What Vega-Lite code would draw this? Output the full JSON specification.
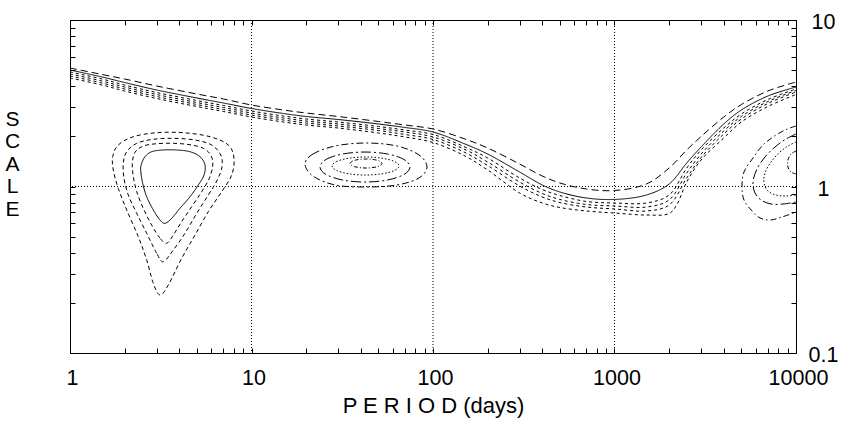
{
  "$schema": "https://vega.github.io/schema/vega-lite/v6.json",
  "width": 726,
  "height": 333,
  "autosize": {"type": "none"},
  "padding": {"left": 70, "top": 20, "right": 49, "bottom": 72},
  "background": "white",
  "config": {
    "view": {"stroke": "black", "strokeWidth": 1},
    "axis": {"tickColor": "black", "tickWidth": 1, "domain": false, "grid": false, "labelColor": "black", "titleColor": "black", "labelFont": "Liberation Sans", "titleFont": "Liberation Sans", "titleFontWeight": "normal"}
  },
  "datasets": {
    "vgrid": [{"period": 10}, {"period": 100}, {"period": 1000}],
    "hgrid": [{"scale": 1}],
    "open": [
      {"curve":"solid","seq":0,"period":1,"scale":5.01},{"curve":"solid","seq":1,"period":1.5,"scale":4.548},{"curve":"solid","seq":2,"period":2,"scale":4.213},{"curve":"solid","seq":3,"period":3,"scale":3.799},{"curve":"solid","seq":4,"period":5,"scale":3.401},{"curve":"solid","seq":5,"period":7,"scale":3.173},{"curve":"solid","seq":6,"period":10,"scale":2.941},{"curve":"solid","seq":7,"period":15,"scale":2.744},{"curve":"solid","seq":8,"period":20,"scale":2.633},{"curve":"solid","seq":9,"period":30,"scale":2.526},{"curve":"solid","seq":10,"period":50,"scale":2.374},{"curve":"solid","seq":11,"period":70,"scale":2.262},{"curve":"solid","seq":12,"period":100,"scale":2.125},{"curve":"solid","seq":13,"period":150,"scale":1.8},{"curve":"solid","seq":14,"period":200,"scale":1.567},{"curve":"solid","seq":15,"period":300,"scale":1.222},{"curve":"solid","seq":16,"period":400,"scale":1.021},{"curve":"solid","seq":17,"period":500,"scale":0.927},{"curve":"solid","seq":18,"period":700,"scale":0.853},{"curve":"solid","seq":19,"period":1000,"scale":0.836},{"curve":"solid","seq":20,"period":1500,"scale":0.889},{"curve":"solid","seq":21,"period":2000,"scale":1.035},{"curve":"solid","seq":22,"period":2500,"scale":1.384},{"curve":"solid","seq":23,"period":3000,"scale":1.727},{"curve":"solid","seq":24,"period":4000,"scale":2.374},{"curve":"solid","seq":25,"period":5000,"scale":2.88},{"curve":"solid","seq":26,"period":7000,"scale":3.496},{"curve":"solid","seq":27,"period":10000,"scale":3.959},
      {"curve":"dash","seq":0,"period":1,"scale":5.149},{"curve":"dash","seq":1,"period":1.5,"scale":4.708},{"curve":"dash","seq":2,"period":2,"scale":4.422},{"curve":"dash","seq":3,"period":3,"scale":4.015},{"curve":"dash","seq":4,"period":5,"scale":3.594},{"curve":"dash","seq":5,"period":7,"scale":3.354},{"curve":"dash","seq":6,"period":10,"scale":3.086},{"curve":"dash","seq":7,"period":15,"scale":2.88},{"curve":"dash","seq":8,"period":20,"scale":2.763},{"curve":"dash","seq":9,"period":30,"scale":2.633},{"curve":"dash","seq":10,"period":50,"scale":2.457},{"curve":"dash","seq":11,"period":70,"scale":2.341},{"curve":"dash","seq":12,"period":100,"scale":2.215},{"curve":"dash","seq":13,"period":150,"scale":1.929},{"curve":"dash","seq":14,"period":200,"scale":1.703},{"curve":"dash","seq":15,"period":300,"scale":1.365},{"curve":"dash","seq":16,"period":400,"scale":1.156},{"curve":"dash","seq":17,"period":500,"scale":1.05},{"curve":"dash","seq":18,"period":700,"scale":0.966},{"curve":"dash","seq":19,"period":1000,"scale":0.946},{"curve":"dash","seq":20,"period":1500,"scale":1.035},{"curve":"dash","seq":21,"period":2000,"scale":1.291},{"curve":"dash","seq":22,"period":2500,"scale":1.657},{"curve":"dash","seq":23,"period":3000,"scale":1.996},{"curve":"dash","seq":24,"period":4000,"scale":2.615},{"curve":"dash","seq":25,"period":5000,"scale":3.108},{"curve":"dash","seq":26,"period":7000,"scale":3.746},{"curve":"dash","seq":27,"period":10000,"scale":4.243},
      {"curve":"b1","seq":0,"period":1,"scale":4.873},{"curve":"b1","seq":1,"period":1.5,"scale":4.422},{"curve":"b1","seq":2,"period":2,"scale":4.07},{"curve":"b1","seq":3,"period":3,"scale":3.669},{"curve":"b1","seq":4,"period":5,"scale":3.285},{"curve":"b1","seq":5,"period":7,"scale":3.065},{"curve":"b1","seq":6,"period":10,"scale":2.841},{"curve":"b1","seq":7,"period":15,"scale":2.651},{"curve":"b1","seq":8,"period":20,"scale":2.543},{"curve":"b1","seq":9,"period":30,"scale":2.44},{"curve":"b1","seq":10,"period":50,"scale":2.293},{"curve":"b1","seq":11,"period":70,"scale":2.184},{"curve":"b1","seq":12,"period":100,"scale":2.053},{"curve":"b1","seq":13,"period":150,"scale":1.727},{"curve":"b1","seq":14,"period":200,"scale":1.483},{"curve":"b1","seq":15,"period":300,"scale":1.125},{"curve":"b1","seq":16,"period":400,"scale":0.959},{"curve":"b1","seq":17,"period":500,"scale":0.883},{"curve":"b1","seq":18,"period":700,"scale":0.813},{"curve":"b1","seq":19,"period":1000,"scale":0.796},{"curve":"b1","seq":20,"period":1500,"scale":0.796},{"curve":"b1","seq":21,"period":2000,"scale":0.889},{"curve":"b1","seq":22,"period":2500,"scale":1.291},{"curve":"b1","seq":23,"period":3000,"scale":1.657},{"curve":"b1","seq":24,"period":4000,"scale":2.246},{"curve":"b1","seq":25,"period":5000,"scale":2.725},{"curve":"b1","seq":26,"period":7000,"scale":3.331},{"curve":"b1","seq":27,"period":10000,"scale":3.851},
      {"curve":"b2","seq":0,"period":1,"scale":4.74},{"curve":"b2","seq":1,"period":1.5,"scale":4.301},{"curve":"b2","seq":2,"period":2,"scale":3.959},{"curve":"b2","seq":3,"period":3,"scale":3.569},{"curve":"b2","seq":4,"period":5,"scale":3.195},{"curve":"b2","seq":5,"period":7,"scale":2.981},{"curve":"b2","seq":6,"period":10,"scale":2.763},{"curve":"b2","seq":7,"period":15,"scale":2.579},{"curve":"b2","seq":8,"period":20,"scale":2.474},{"curve":"b2","seq":9,"period":30,"scale":2.374},{"curve":"b2","seq":10,"period":50,"scale":2.23},{"curve":"b2","seq":11,"period":70,"scale":2.125},{"curve":"b2","seq":12,"period":100,"scale":1.983},{"curve":"b2","seq":13,"period":150,"scale":1.669},{"curve":"b2","seq":14,"period":200,"scale":1.403},{"curve":"b2","seq":15,"period":300,"scale":1.064},{"curve":"b2","seq":16,"period":400,"scale":0.908},{"curve":"b2","seq":17,"period":500,"scale":0.836},{"curve":"b2","seq":18,"period":700,"scale":0.78},{"curve":"b2","seq":19,"period":1000,"scale":0.764},{"curve":"b2","seq":20,"period":1500,"scale":0.753},{"curve":"b2","seq":21,"period":2000,"scale":0.83},{"curve":"b2","seq":22,"period":2500,"scale":1.205},{"curve":"b2","seq":23,"period":3000,"scale":1.567},{"curve":"b2","seq":24,"period":4000,"scale":2.154},{"curve":"b2","seq":25,"period":5000,"scale":2.633},{"curve":"b2","seq":26,"period":7000,"scale":3.239},{"curve":"b2","seq":27,"period":10000,"scale":3.772},
      {"curve":"b3","seq":0,"period":1,"scale":4.61},{"curve":"b3","seq":1,"period":1.5,"scale":4.184},{"curve":"b3","seq":2,"period":2,"scale":3.851},{"curve":"b3","seq":3,"period":3,"scale":3.471},{"curve":"b3","seq":4,"period":5,"scale":3.108},{"curve":"b3","seq":5,"period":7,"scale":2.9},{"curve":"b3","seq":6,"period":10,"scale":2.688},{"curve":"b3","seq":7,"period":15,"scale":2.508},{"curve":"b3","seq":8,"period":20,"scale":2.407},{"curve":"b3","seq":9,"period":30,"scale":2.309},{"curve":"b3","seq":10,"period":50,"scale":2.169},{"curve":"b3","seq":11,"period":70,"scale":2.053},{"curve":"b3","seq":12,"period":100,"scale":1.916},{"curve":"b3","seq":13,"period":150,"scale":1.6},{"curve":"b3","seq":14,"period":200,"scale":1.337},{"curve":"b3","seq":15,"period":300,"scale":1.007},{"curve":"b3","seq":16,"period":400,"scale":0.865},{"curve":"b3","seq":17,"period":500,"scale":0.801},{"curve":"b3","seq":18,"period":700,"scale":0.753},{"curve":"b3","seq":19,"period":1000,"scale":0.733},{"curve":"b3","seq":20,"period":1500,"scale":0.713},{"curve":"b3","seq":21,"period":2000,"scale":0.774},{"curve":"b3","seq":22,"period":2500,"scale":1.125},{"curve":"b3","seq":23,"period":3000,"scale":1.494},{"curve":"b3","seq":24,"period":4000,"scale":2.067},{"curve":"b3","seq":25,"period":5000,"scale":2.543},{"curve":"b3","seq":26,"period":7000,"scale":3.151},{"curve":"b3","seq":27,"period":10000,"scale":3.694},
      {"curve":"b4","seq":0,"period":1,"scale":4.484},{"curve":"b4","seq":1,"period":1.5,"scale":4.07},{"curve":"b4","seq":2,"period":2,"scale":3.746},{"curve":"b4","seq":3,"period":3,"scale":3.377},{"curve":"b4","seq":4,"period":5,"scale":3.023},{"curve":"b4","seq":5,"period":7,"scale":2.821},{"curve":"b4","seq":6,"period":10,"scale":2.615},{"curve":"b4","seq":7,"period":15,"scale":2.44},{"curve":"b4","seq":8,"period":20,"scale":2.341},{"curve":"b4","seq":9,"period":30,"scale":2.246},{"curve":"b4","seq":10,"period":50,"scale":2.096},{"curve":"b4","seq":11,"period":70,"scale":1.983},{"curve":"b4","seq":12,"period":100,"scale":1.838},{"curve":"b4","seq":13,"period":150,"scale":1.525},{"curve":"b4","seq":14,"period":200,"scale":1.256},{"curve":"b4","seq":15,"period":300,"scale":0.914},{"curve":"b4","seq":16,"period":400,"scale":0.796},{"curve":"b4","seq":17,"period":500,"scale":0.748},{"curve":"b4","seq":18,"period":700,"scale":0.713},{"curve":"b4","seq":19,"period":1000,"scale":0.693},{"curve":"b4","seq":20,"period":1500,"scale":0.674},{"curve":"b4","seq":21,"period":2000,"scale":0.688},{"curve":"b4","seq":22,"period":2200,"scale":0.774},{"curve":"b4","seq":23,"period":2500,"scale":1.064},{"curve":"b4","seq":24,"period":3000,"scale":1.443},{"curve":"b4","seq":25,"period":4000,"scale":1.956},{"curve":"b4","seq":26,"period":5000,"scale":2.44},{"curve":"b4","seq":27,"period":7000,"scale":3.023},{"curve":"b4","seq":28,"period":10000,"scale":3.569},
      {"curve":"r1","seq":0,"period":10000,"scale":2.309},{"curve":"r1","seq":1,"period":8697,"scale":2.184},{"curve":"r1","seq":2,"period":7470,"scale":1.983},{"curve":"r1","seq":3,"period":6497,"scale":1.751},{"curve":"r1","seq":4,"period":5797,"scale":1.483},{"curve":"r1","seq":5,"period":5170,"scale":1.222},{"curve":"r1","seq":6,"period":5040,"scale":1.007},{"curve":"r1","seq":7,"period":5170,"scale":0.83},{"curve":"r1","seq":8,"period":5724,"scale":0.713},{"curve":"r1","seq":9,"period":6334,"scale":0.647},{"curve":"r1","seq":10,"period":7190,"scale":0.629},{"curve":"r1","seq":11,"period":8374,"scale":0.656},{"curve":"r1","seq":12,"period":10000,"scale":0.703},
      {"curve":"r2","seq":0,"period":10000,"scale":2.067},{"curve":"r2","seq":1,"period":8808,"scale":1.929},{"curve":"r2","seq":2,"period":7661,"scale":1.727},{"curve":"r2","seq":3,"period":6748,"scale":1.504},{"curve":"r2","seq":4,"period":6097,"scale":1.274},{"curve":"r2","seq":5,"period":5797,"scale":1.064},{"curve":"r2","seq":6,"period":5945,"scale":0.914},{"curve":"r2","seq":7,"period":6416,"scale":0.83},{"curve":"r2","seq":8,"period":7283,"scale":0.785},{"curve":"r2","seq":9,"period":8481,"scale":0.785},{"curve":"r2","seq":10,"period":10000,"scale":0.807},
      {"curve":"r3","seq":0,"period":10000,"scale":1.851},{"curve":"r3","seq":1,"period":9034,"scale":1.751},{"curve":"r3","seq":2,"period":8058,"scale":1.589},{"curve":"r3","seq":3,"period":7283,"scale":1.403},{"curve":"r3","seq":4,"period":6748,"scale":1.205},{"curve":"r3","seq":5,"period":6663,"scale":1.05},{"curve":"r3","seq":6,"period":7010,"scale":0.94},{"curve":"r3","seq":7,"period":7759,"scale":0.889},{"curve":"r3","seq":8,"period":8808,"scale":0.877},{"curve":"r3","seq":9,"period":10000,"scale":0.889},
      {"curve":"r4","seq":0,"period":10000,"scale":1.634},{"curve":"r4","seq":1,"period":9386,"scale":1.567},{"curve":"r4","seq":2,"period":9034,"scale":1.443},{"curve":"r4","seq":3,"period":9034,"scale":1.309},{"curve":"r4","seq":4,"period":9386,"scale":1.222},{"curve":"r4","seq":5,"period":10000,"scale":1.189}
    ],
    "closed": [
      {"curve":"s","seq":0,"period":3.337,"scale":0.601},{"curve":"s","seq":1,"period":3.133,"scale":0.629},{"curve":"s","seq":2,"period":2.877,"scale":0.723},{"curve":"s","seq":3,"period":2.646,"scale":0.868},{"curve":"s","seq":4,"period":2.515,"scale":1.045},{"curve":"s","seq":5,"period":2.452,"scale":1.256},{"curve":"s","seq":6,"period":2.483,"scale":1.378},{"curve":"s","seq":7,"period":2.59,"scale":1.51},{"curve":"s","seq":8,"period":2.818,"scale":1.618},{"curve":"s","seq":9,"period":3.266,"scale":1.657},{"curve":"s","seq":10,"period":3.872,"scale":1.657},{"curve":"s","seq":11,"period":4.584,"scale":1.618},{"curve":"s","seq":12,"period":5.203,"scale":1.51},{"curve":"s","seq":13,"period":5.544,"scale":1.346},{"curve":"s","seq":14,"period":5.474,"scale":1.172},{"curve":"s","seq":15,"period":5.092,"scale":1.021},{"curve":"s","seq":16,"period":4.584,"scale":0.868},{"curve":"s","seq":17,"period":4.036,"scale":0.74},{"curve":"s","seq":18,"period":3.634,"scale":0.644},
      {"curve":"d1","seq":0,"period":3.41,"scale":0.456},{"curve":"d1","seq":1,"period":3.133,"scale":0.489},{"curve":"d1","seq":2,"period":2.818,"scale":0.587},{"curve":"d1","seq":3,"period":2.534,"scale":0.74},{"curve":"d1","seq":4,"period":2.331,"scale":0.931},{"curve":"d1","seq":5,"period":2.233,"scale":1.145},{"curve":"d1","seq":6,"period":2.204,"scale":1.378},{"curve":"d1","seq":7,"period":2.281,"scale":1.605},{"curve":"d1","seq":8,"period":2.534,"scale":1.751},{"curve":"d1","seq":9,"period":3.004,"scale":1.807},{"curve":"d1","seq":10,"period":3.708,"scale":1.817},{"curve":"d1","seq":11,"period":4.584,"scale":1.782},{"curve":"d1","seq":12,"period":5.425,"scale":1.696},{"curve":"d1","seq":13,"period":5.961,"scale":1.546},{"curve":"d1","seq":14,"period":6.115,"scale":1.346},{"curve":"d1","seq":15,"period":5.855,"scale":1.12},{"curve":"d1","seq":16,"period":5.316,"scale":0.931},{"curve":"d1","seq":17,"period":4.684,"scale":0.756},{"curve":"d1","seq":18,"period":4.125,"scale":0.615},{"curve":"d1","seq":19,"period":3.708,"scale":0.511},
      {"curve":"d2","seq":0,"period":3.266,"scale":0.3535},{"curve":"d2","seq":1,"period":3.004,"scale":0.397},{"curve":"d2","seq":2,"period":2.646,"scale":0.5235},{"curve":"d2","seq":3,"period":2.331,"scale":0.69},{"curve":"d2","seq":4,"period":2.095,"scale":0.889},{"curve":"d2","seq":5,"period":1.984,"scale":1.12},{"curve":"d2","seq":6,"period":1.966,"scale":1.378},{"curve":"d2","seq":7,"period":2.053,"scale":1.618},{"curve":"d2","seq":8,"period":2.331,"scale":1.817},{"curve":"d2","seq":9,"period":2.877,"scale":1.921},{"curve":"d2","seq":10,"period":3.708,"scale":1.947},{"curve":"d2","seq":11,"period":4.884,"scale":1.902},{"curve":"d2","seq":12,"period":6.036,"scale":1.775},{"curve":"d2","seq":13,"period":6.767,"scale":1.546},{"curve":"d2","seq":14,"period":6.88,"scale":1.315},{"curve":"d2","seq":15,"period":6.479,"scale":1.094},{"curve":"d2","seq":16,"period":5.781,"scale":0.889},{"curve":"d2","seq":17,"period":4.99,"scale":0.69},{"curve":"d2","seq":18,"period":4.301,"scale":0.5235},{"curve":"d2","seq":19,"period":3.708,"scale":0.4155},
      {"curve":"d3","seq":0,"period":3.133,"scale":0.223},{"curve":"d3","seq":1,"period":2.877,"scale":0.262},{"curve":"d3","seq":2,"period":2.646,"scale":0.362},{"curve":"d3","seq":3,"period":2.378,"scale":0.4995},{"curve":"d3","seq":4,"period":2.053,"scale":0.723},{"curve":"d3","seq":5,"period":1.845,"scale":0.975},{"curve":"d3","seq":6,"period":1.732,"scale":1.256},{"curve":"d3","seq":7,"period":1.719,"scale":1.51},{"curve":"d3","seq":8,"period":1.845,"scale":1.775},{"curve":"d3","seq":9,"period":2.233,"scale":1.991},{"curve":"d3","seq":10,"period":3.004,"scale":2.104},{"curve":"d3","seq":11,"period":4.21,"scale":2.104},{"curve":"d3","seq":12,"period":5.908,"scale":1.991},{"curve":"d3","seq":13,"period":7.45,"scale":1.775},{"curve":"d3","seq":14,"period":8.01,"scale":1.477},{"curve":"d3","seq":15,"period":7.779,"scale":1.172},{"curve":"d3","seq":16,"period":6.853,"scale":0.931},{"curve":"d3","seq":17,"period":5.781,"scale":0.706},{"curve":"d3","seq":18,"period":4.884,"scale":0.511},{"curve":"d3","seq":19,"period":4.125,"scale":0.3705},{"curve":"d3","seq":20,"period":3.48,"scale":0.256},
      {"curve":"m1","seq":0,"period":19.72,"scale":1.365},{"curve":"m1","seq":1,"period":21.82,"scale":1.567},{"curve":"m1","seq":2,"period":28.84,"scale":1.751},{"curve":"m1","seq":3,"period":42.74,"scale":1.825},{"curve":"m1","seq":4,"period":63.35,"scale":1.751},{"curve":"m1","seq":5,"period":83.75,"scale":1.546},{"curve":"m1","seq":6,"period":92.67,"scale":1.309},{"curve":"m1","seq":7,"period":83.75,"scale":1.125},{"curve":"m1","seq":8,"period":63.35,"scale":1.021},{"curve":"m1","seq":9,"period":42.74,"scale":0.993},{"curve":"m1","seq":10,"period":28.84,"scale":1.021},{"curve":"m1","seq":11,"period":21.82,"scale":1.156},
      {"curve":"m2","seq":0,"period":23.85,"scale":1.309},{"curve":"m2","seq":1,"period":25.73,"scale":1.453},{"curve":"m2","seq":2,"period":31.72,"scale":1.567},{"curve":"m2","seq":3,"period":42.2,"scale":1.611},{"curve":"m2","seq":4,"period":56.15,"scale":1.567},{"curve":"m2","seq":5,"period":69.22,"scale":1.453},{"curve":"m2","seq":6,"period":74.69,"scale":1.309},{"curve":"m2","seq":7,"period":69.22,"scale":1.181},{"curve":"m2","seq":8,"period":56.15,"scale":1.094},{"curve":"m2","seq":9,"period":42.2,"scale":1.064},{"curve":"m2","seq":10,"period":31.72,"scale":1.094},{"curve":"m2","seq":11,"period":25.73,"scale":1.181},
      {"curve":"m3","seq":0,"period":27.77,"scale":1.328},{"curve":"m3","seq":1,"period":29.4,"scale":1.413},{"curve":"m3","seq":2,"period":34.45,"scale":1.479},{"curve":"m3","seq":3,"period":42.47,"scale":1.504},{"curve":"m3","seq":4,"period":52.36,"scale":1.479},{"curve":"m3","seq":5,"period":61.37,"scale":1.413},{"curve":"m3","seq":6,"period":64.97,"scale":1.328},{"curve":"m3","seq":7,"period":61.37,"scale":1.248},{"curve":"m3","seq":8,"period":52.36,"scale":1.192},{"curve":"m3","seq":9,"period":42.47,"scale":1.172},{"curve":"m3","seq":10,"period":34.45,"scale":1.192},{"curve":"m3","seq":11,"period":29.4,"scale":1.248},
      {"curve":"m4","seq":0,"period":34.89,"scale":1.374},{"curve":"m4","seq":1,"period":37.03,"scale":1.437},{"curve":"m4","seq":2,"period":42.74,"scale":1.463},{"curve":"m4","seq":3,"period":49.33,"scale":1.437},{"curve":"m4","seq":4,"period":52.36,"scale":1.374},{"curve":"m4","seq":5,"period":49.33,"scale":1.315},{"curve":"m4","seq":6,"period":42.74,"scale":1.291},{"curve":"m4","seq":7,"period":37.03,"scale":1.315}
    ]
  },
  "layer": [
    {
      "data": {"name": "vgrid"},
      "mark": {"type": "rule", "color": "black", "strokeWidth": 1, "strokeDash": [1, 2]},
      "encoding": {
        "x": {"field": "period", "type": "quantitative", "scale": {"type": "log", "domain": [1, 10000], "nice": false}, "axis": null}
      }
    },
    {
      "data": {"name": "hgrid"},
      "mark": {"type": "rule", "color": "black", "strokeWidth": 1, "strokeDash": [1, 2]},
      "encoding": {
        "y": {"field": "scale", "type": "quantitative", "scale": {"type": "log", "domain": [0.1, 10], "nice": false}, "axis": null}
      }
    },
    {
      "data": {"name": "open"},
      "mark": {"type": "line", "color": "black", "strokeWidth": 1, "interpolate": "catmull-rom", "clip": true},
      "encoding": {
        "x": {"field": "period", "type": "quantitative", "scale": {"type": "log", "domain": [1, 10000], "nice": false},
          "axis": {"orient": "bottom", "values": [1,2,3,4,5,6,7,8,9,10,20,30,40,50,60,70,80,90,100,200,300,400,500,600,700,800,900,1000,2000,3000,4000,5000,6000,7000,8000,9000,10000],
            "tickSize": -5, "labelExpr": "indexof([1,10,100,1000,10000], datum.value) >= 0 ? format(datum.value, 'd') : ''",
            "labelFontSize": 21.5, "labelPadding": 19, "labelOffset": 2, "labelFlush": false, "labelOverlap": false,
            "title": "P E R I O D (days)", "titleFontSize": 22, "titleY": 59, "titleBaseline": "alphabetic"}},
        "y": {"field": "scale", "type": "quantitative", "scale": {"type": "log", "domain": [0.1, 10], "nice": false},
          "axis": {"orient": "right", "values": [0.1,0.2,0.3,0.4,0.5,0.6,0.7,0.8,0.9,1,2,3,4,5,6,7,8,9,10],
            "tickSize": -5, "labelExpr": "indexof([0.1,1,10], datum.value) >= 0 ? format(datum.value, '~g') : ''",
            "labelFontSize": 21.5, "labelPadding": 32, "labelAlign": "center", "labelBaseline": "middle", "labelOffset": 2.5, "labelFlush": false, "labelOverlap": false, "title": null}},
        "detail": {"field": "curve", "type": "nominal"},
        "order": {"field": "seq", "type": "quantitative"},
        "strokeDash": {"field": "curve", "type": "nominal", "legend": null,
          "scale": {"domain": ["solid","dash","b1","b2","b3","b4","r1","r2","r3","r4","s","d1","d2","d3","m1","m2","m3","m4"],
            "range": [[1,0],[7,4],[3,3],[3,3],[3,3],[3,3],[6,3,1.5,3],[10,3,2,3],[1.5,2],[4,2,1,2],[1,0],[4,3],[4,3],[4,3],[7,3,2,3],[10,3,2,3],[1.5,2],[4,2,1,2]]}}
      }
    },
    {
      "data": {"name": "closed"},
      "mark": {"type": "line", "color": "black", "strokeWidth": 1, "interpolate": "cardinal-closed", "clip": true},
      "encoding": {
        "x": {"field": "period", "type": "quantitative", "scale": {"type": "log", "domain": [1, 10000], "nice": false},
          "axis": {"orient": "top", "values": [1,2,3,4,5,6,7,8,9,10,20,30,40,50,60,70,80,90,100,200,300,400,500,600,700,800,900,1000,2000,3000,4000,5000,6000,7000,8000,9000,10000],
            "tickSize": -5, "labels": false, "title": null}},
        "y": {"field": "scale", "type": "quantitative", "scale": {"type": "log", "domain": [0.1, 10], "nice": false},
          "axis": {"orient": "left", "values": [0.1,0.2,0.3,0.4,0.5,0.6,0.7,0.8,0.9,1,2,3,4,5,6,7,8,9,10],
            "tickSize": -5, "labels": false,
            "title": ["S","C","A","L","E"], "titleAngle": 0, "titleX": -58, "titleY": 105, "titleAlign": "center", "titleBaseline": "alphabetic", "titleLineHeight": 22.5, "titleFontSize": 21}},
        "detail": {"field": "curve", "type": "nominal"},
        "order": {"field": "seq", "type": "quantitative"},
        "strokeDash": {"field": "curve", "type": "nominal", "legend": null,
          "scale": {"domain": ["solid","dash","b1","b2","b3","b4","r1","r2","r3","r4","s","d1","d2","d3","m1","m2","m3","m4"],
            "range": [[1,0],[7,4],[3,3],[3,3],[3,3],[3,3],[6,3,1.5,3],[10,3,2,3],[1.5,2],[4,2,1,2],[1,0],[4,3],[4,3],[4,3],[7,3,2,3],[10,3,2,3],[1.5,2],[4,2,1,2]]}}
      }
    }
  ],
  "resolve": {"axis": {"x": "independent", "y": "independent"}}
}
